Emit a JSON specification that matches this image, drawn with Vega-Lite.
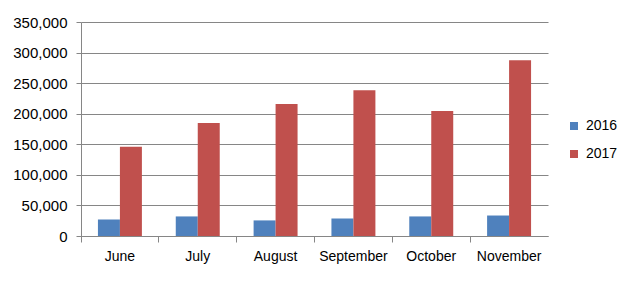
{
  "$schema": "https://vega.github.io/schema/vega-lite/v6.json",
  "autosize": "none",
  "width": 467,
  "height": 214,
  "padding": {"left": 81, "top": 22, "right": 88, "bottom": 47},
  "background": "white",
  "data": {
    "values": [
      {"month": "June", "year": "2016", "value": 27000},
      {"month": "June", "year": "2017", "value": 146000},
      {"month": "July", "year": "2016", "value": 32000},
      {"month": "July", "year": "2017", "value": 185000},
      {"month": "August", "year": "2016", "value": 25500},
      {"month": "August", "year": "2017", "value": 216000},
      {"month": "September", "year": "2016", "value": 28500},
      {"month": "September", "year": "2017", "value": 238500},
      {"month": "October", "year": "2016", "value": 32000},
      {"month": "October", "year": "2017", "value": 204500},
      {"month": "November", "year": "2016", "value": 33500},
      {"month": "November", "year": "2017", "value": 287500}
    ]
  },
  "mark": {"type": "bar"},
  "encoding": {
    "x": {
      "field": "month",
      "type": "nominal",
      "sort": ["June", "July", "August", "September", "October", "November"],
      "scale": {"paddingInner": 0, "paddingOuter": 0},
      "axis": {
        "title": null,
        "labelAngle": 0,
        "bandPosition": 0,
        "tickSize": 6,
        "labelPadding": 7,
        "grid": false
      }
    },
    "xOffset": {
      "field": "year",
      "type": "nominal",
      "scale": {"paddingInner": 0, "paddingOuter": 0.77}
    },
    "y": {
      "field": "value",
      "type": "quantitative",
      "scale": {"domain": [0, 350000], "nice": false},
      "axis": {
        "title": null,
        "values": [0, 50000, 100000, 150000, 200000, 250000, 300000, 350000],
        "format": ",d",
        "tickSize": 5,
        "labelPadding": 9,
        "labelFontSize": 15,
        "grid": true
      }
    },
    "color": {
      "field": "year",
      "type": "nominal",
      "scale": {"domain": ["2016", "2017"], "range": ["#4F81BD", "#C0504D"]},
      "legend": {
        "title": null,
        "orient": "none",
        "legendX": 486,
        "legendY": 97,
        "symbolType": "square",
        "symbolSize": 64,
        "symbolStrokeWidth": 0,
        "rowPadding": 14,
        "labelFontSize": 14,
        "labelFont": "Liberation Sans",
        "labelColor": "#000000",
        "labelOffset": 5
      }
    }
  },
  "config": {
    "view": {"stroke": null},
    "axis": {
      "labelFont": "Liberation Sans",
      "labelFontSize": 14,
      "labelColor": "#000000",
      "domainColor": "#868686",
      "tickColor": "#868686",
      "gridColor": "#868686",
      "gridOpacity": 1,
      "domainWidth": 1,
      "tickWidth": 1,
      "gridWidth": 1
    }
  }
}
